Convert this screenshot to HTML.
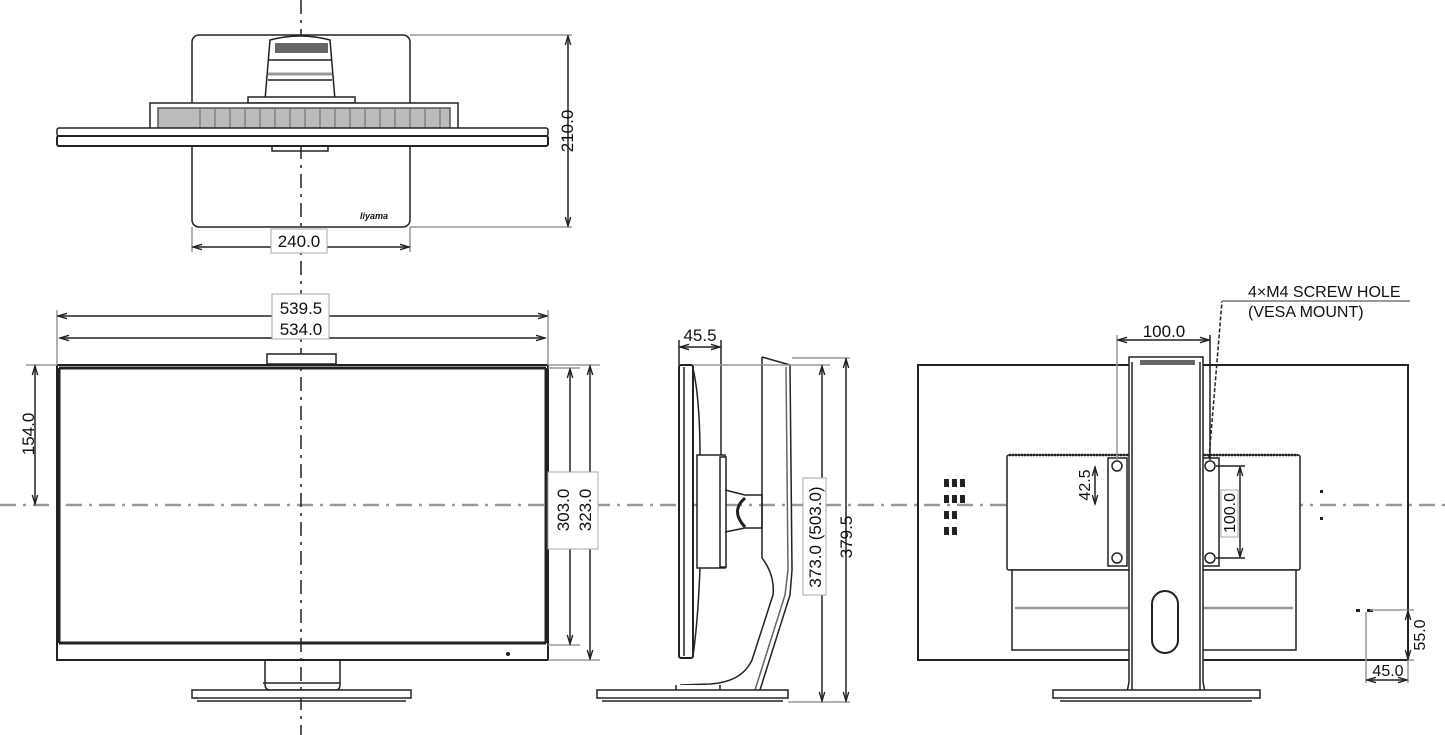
<!DOCTYPE html>
<html><head><meta charset="utf-8"><style>
html,body{margin:0;padding:0;background:#fff;}
svg{display:block;}
text{font-family:"Liberation Sans",sans-serif;font-size:15px;fill:#111;stroke:none;}
</style></head><body>
<svg width="1445" height="735" viewBox="0 0 1445 735" xmlns="http://www.w3.org/2000/svg">
<defs>
<marker id="a" viewBox="0 0 10 10" refX="10" refY="5" markerWidth="8" markerHeight="6" orient="auto-start-reverse"><path d="M0,2 L10,5 L0,8" fill="none" stroke="#222" stroke-width="1.5"/></marker>
</defs>
<g fill="none" stroke="#222" stroke-width="1.5">
<!-- center lines -->
<line x1="0" y1="505" x2="1445" y2="505" stroke="#999" stroke-width="2.5" stroke-dasharray="16,7,3,7"/>
<line x1="301" y1="0" x2="301" y2="735" stroke="#222" stroke-width="1.5" stroke-dasharray="14,6,3,6"/>

<!-- TOP VIEW -->
<rect x="192" y="35" width="218" height="192" rx="7"/>
<path d="M265,100 L270,40 Q300,32 330,40 L335,100 Z" fill="#fff"/>
<rect x="275" y="43" width="53" height="10" fill="#666" stroke="none"/>
<line x1="268" y1="60" x2="332" y2="60"/>
<line x1="268" y1="74" x2="332" y2="74" stroke="#999" stroke-width="3"/>
<line x1="268" y1="80" x2="332" y2="80"/>
<rect x="248" y="97" width="107" height="6" fill="#fff"/>
<rect x="150" y="103" width="308" height="27" fill="#fff"/>
<rect x="158" y="108" width="292" height="21" fill="#bbb" stroke="#555"/>
<path d="M200,108v21M215,108v21M230,108v21M245,108v21M260,108v21M275,108v21M290,108v21M305,108v21M320,108v21M335,108v21M350,108v21M365,108v21M380,108v21M395,108v21M410,108v21M425,108v21M440,108v21" stroke="#666" stroke-width="1"/>
<rect x="57" y="128" width="491" height="8" rx="2" fill="#fff"/>
<rect x="57" y="136" width="491" height="10" rx="2" fill="#fff" stroke-width="2"/>
<path d="M272,147 L272,151 L328,151 L328,147"/>
<text x="360" y="219" style="font-size:9px;font-style:italic;font-weight:bold">Iiyama</text>
<!-- 210 dim -->
<line x1="410" y1="35" x2="572" y2="35" stroke="#999"/>
<line x1="410" y1="227" x2="572" y2="227" stroke="#999"/>
<line x1="568" y1="36" x2="568" y2="226" marker-start="url(#a)" marker-end="url(#a)"/>
<text transform="translate(573,131) rotate(-90)" text-anchor="middle" style="font-size:17px">210.0</text>
<!-- 240 dim -->
<line x1="192" y1="227" x2="192" y2="252" stroke="#999"/>
<line x1="410" y1="227" x2="410" y2="252" stroke="#999"/>
<line x1="193" y1="247" x2="409" y2="247" marker-start="url(#a)" marker-end="url(#a)"/>
<rect x="271" y="229" width="56" height="24" fill="#fff" stroke="#aaa" stroke-width="1"/>
<text x="299" y="247" text-anchor="middle" style="font-size:17px">240.0</text>

<!-- FRONT VIEW -->
<rect x="267" y="354" width="69" height="10" fill="#fff"/>
<rect x="57" y="365" width="491" height="295" stroke-width="2"/>
<line x1="59" y1="368" x2="546" y2="368" stroke-width="3"/>
<line x1="59" y1="368" x2="59" y2="643" stroke-width="3"/>
<line x1="546" y1="368" x2="546" y2="643" stroke-width="3"/>
<line x1="59" y1="643" x2="546" y2="643" stroke-width="3"/>
<circle cx="508" cy="654" r="1.3" fill="#222"/>
<path d="M265,660 L265,684 Q265,690 270,690 L336,690 Q340,690 340,684 L340,660"/>
<line x1="263" y1="683" x2="340" y2="683"/>
<rect x="192" y="690" width="219" height="8" fill="#fff"/>
<line x1="197" y1="701" x2="406" y2="701"/>
<!-- dims -->
<line x1="57" y1="310" x2="57" y2="365" stroke="#999"/>
<line x1="548" y1="310" x2="548" y2="365" stroke="#999"/>
<line x1="58" y1="316" x2="547" y2="316" marker-start="url(#a)" marker-end="url(#a)"/>
<line x1="60" y1="338" x2="545" y2="338" marker-start="url(#a)" marker-end="url(#a)"/>
<rect x="272" y="294" width="57" height="45" fill="#fff" stroke="#aaa" stroke-width="1"/>
<text x="301" y="314" text-anchor="middle" style="font-size:17px">539.5</text>
<text x="301" y="335" text-anchor="middle" style="font-size:17px">534.0</text>
<line x1="26" y1="365" x2="57" y2="365" stroke="#999"/>
<line x1="35" y1="366" x2="35" y2="504" marker-start="url(#a)" marker-end="url(#a)"/>
<text transform="translate(34,434) rotate(-90)" text-anchor="middle" style="font-size:17px">154.0</text>
<line x1="548" y1="368" x2="580" y2="368" stroke="#999"/>
<line x1="548" y1="645" x2="580" y2="645" stroke="#999"/>
<line x1="548" y1="660" x2="600" y2="660" stroke="#999"/>
<line x1="548" y1="365" x2="600" y2="365" stroke="#999"/>
<line x1="570" y1="369" x2="570" y2="644" marker-start="url(#a)" marker-end="url(#a)"/>
<line x1="590" y1="366" x2="590" y2="659" marker-start="url(#a)" marker-end="url(#a)"/>
<rect x="548" y="472" width="50" height="77" fill="#fff" stroke="#aaa" stroke-width="1"/>
<text transform="translate(569,510) rotate(-90)" text-anchor="middle" style="font-size:17px">303.0</text>
<text transform="translate(591,510) rotate(-90)" text-anchor="middle" style="font-size:17px">323.0</text>

<!-- SIDE VIEW -->
<rect x="679" y="365" width="14" height="293" rx="2" fill="#fff" stroke-width="2"/>
<line x1="684" y1="367" x2="684" y2="656"/>
<path d="M693,368 Q700,400 700,455 L700,568 Q698,620 693,656"/>
<rect x="697" y="455" width="28" height="113" fill="#fff"/>
<rect x="720" y="457" width="6" height="110" fill="#fff"/>
<path d="M725,490 L745,495 L762,495 L762,528 L745,528 L725,532"/>
<path d="M745,498 Q730,511 745,527" stroke-width="3"/>
<path d="M762,357 L762,558 Q775,575 773,595 L752,660 Q742,682 710,684 L680,685"/>
<path d="M762,357 L790,365 L792,570 L790,595 L760,690"/>
<path d="M786,367 L788,570 L785,595 L755,690" stroke="#666"/>
<path d="M676,685 L676,692 L720,692 L720,685" fill="#fff"/>
<rect x="597" y="690" width="191" height="8" fill="#fff"/>
<line x1="602" y1="701" x2="783" y2="701"/>
<!-- side dims -->
<line x1="679" y1="340" x2="679" y2="365" stroke="#222"/>
<line x1="721" y1="340" x2="721" y2="455" stroke="#222"/>
<line x1="680" y1="347" x2="720" y2="347" marker-start="url(#a)" marker-end="url(#a)"/>
<text x="700" y="341" text-anchor="middle" style="font-size:17px">45.5</text>
<line x1="693" y1="365" x2="830" y2="365" stroke="#999"/>
<line x1="792" y1="358" x2="850" y2="358" stroke="#999"/>
<line x1="788" y1="702" x2="850" y2="702" stroke="#999"/>
<line x1="822" y1="366" x2="822" y2="701" marker-start="url(#a)" marker-end="url(#a)"/>
<line x1="846" y1="359" x2="846" y2="701" marker-start="url(#a)" marker-end="url(#a)"/>
<rect x="803" y="478" width="23" height="117" fill="#fff" stroke="#aaa" stroke-width="1"/>
<text transform="translate(821,537) rotate(-90)" text-anchor="middle" style="font-size:17px">373.0 (503.0)</text>
<text transform="translate(852,537) rotate(-90)" text-anchor="middle" style="font-size:17px">379.5</text>

<!-- BACK VIEW -->
<rect x="918" y="365" width="490" height="295" stroke-width="2"/>
<rect x="1007" y="455" width="293" height="115" rx="2" fill="#fff"/>
<line x1="1009" y1="455" x2="1298" y2="455" stroke-width="2.5" stroke-dasharray="2,1"/>
<rect x="1012" y="570" width="284" height="80" fill="#fff"/>
<line x1="1015" y1="608" x2="1293" y2="608" stroke="#999" stroke-width="2.5"/>
<rect x="1108" y="458" width="19" height="108" fill="#fff"/>
<rect x="1200" y="458" width="19" height="108" fill="#fff"/>
<g fill="#fff">
<circle cx="1117" cy="466" r="5"/><circle cx="1117" cy="558" r="5"/>
<circle cx="1210" cy="466" r="5"/><circle cx="1210" cy="558" r="5"/>
</g>
<path d="M1129,357 L1203,357 L1203,682 L1205,692 L1127,692 L1129,682 Z" fill="#fff"/>
<path d="M1132,362 L1132,690 M1200,362 L1200,690"/>
<rect x="1140" y="360" width="55" height="5" fill="#666" stroke="none"/>
<rect x="1152" y="591" width="26" height="62" rx="13" stroke-width="2"/>
<rect x="1053" y="690" width="207" height="8" fill="#fff"/>
<line x1="1060" y1="701" x2="1252" y2="701"/>
<g fill="#222" stroke="none">
<rect x="944" y="479" width="5" height="8"/><rect x="952" y="479" width="5" height="8"/><rect x="960" y="479" width="5" height="8"/>
<rect x="944" y="495" width="5" height="8"/><rect x="952" y="495" width="5" height="8"/><rect x="960" y="495" width="5" height="8"/>
<rect x="944" y="511" width="5" height="8"/><rect x="952" y="511" width="5" height="8"/>
<rect x="944" y="527" width="5" height="8"/><rect x="952" y="527" width="5" height="8"/>
<rect x="1356" y="609" width="4" height="3"/><rect x="1367" y="609" width="6" height="3"/>
<rect x="1320" y="490" width="3" height="3"/><rect x="1320" y="517" width="3" height="3"/>
</g>
<!-- back dims -->
<line x1="1117" y1="335" x2="1117" y2="460" stroke="#999"/>
<line x1="1210" y1="335" x2="1210" y2="460"/>
<line x1="1118" y1="340" x2="1209" y2="340" marker-start="url(#a)" marker-end="url(#a)"/>
<text x="1164" y="337" text-anchor="middle" style="font-size:17px">100.0</text>
<line x1="1209" y1="458" x2="1222" y2="301" stroke-dasharray="4,2"/>
<line x1="1222" y1="301" x2="1410" y2="301" stroke="#999" stroke-width="2"/>
<text x="1248" y="297" style="font-size:16px">4×M4 SCREW HOLE</text>
<text x="1248" y="317" style="font-size:16px">(VESA MOUNT)</text>
<line x1="1095" y1="467" x2="1095" y2="504" marker-start="url(#a)" marker-end="url(#a)"/>
<text transform="translate(1090,485) rotate(-90)" text-anchor="middle" style="font-size:16px">42.5</text>
<line x1="1216" y1="466" x2="1245" y2="466"/>
<line x1="1216" y1="558" x2="1245" y2="558"/>
<line x1="1240" y1="467" x2="1240" y2="557" marker-start="url(#a)" marker-end="url(#a)"/>
<rect x="1221" y="490" width="17" height="47" fill="#fff" stroke="#aaa" stroke-width="1"/>
<text transform="translate(1235,513) rotate(-90)" text-anchor="middle" style="font-size:16px">100.0</text>
<line x1="1370" y1="610" x2="1414" y2="610" stroke="#999"/>
<line x1="1408" y1="660" x2="1414" y2="660" stroke="#999"/>
<line x1="1408" y1="611" x2="1408" y2="659" marker-start="url(#a)" marker-end="url(#a)"/>
<text transform="translate(1425,635) rotate(-90)" text-anchor="middle" style="font-size:16px">55.0</text>
<line x1="1366" y1="612" x2="1366" y2="683" stroke="#999"/>
<line x1="1408" y1="660" x2="1408" y2="683" stroke="#999"/>
<line x1="1367" y1="680" x2="1407" y2="680" marker-start="url(#a)" marker-end="url(#a)"/>
<text x="1388" y="676" text-anchor="middle" style="font-size:16px">45.0</text>
</g>
</svg>
</body></html>
